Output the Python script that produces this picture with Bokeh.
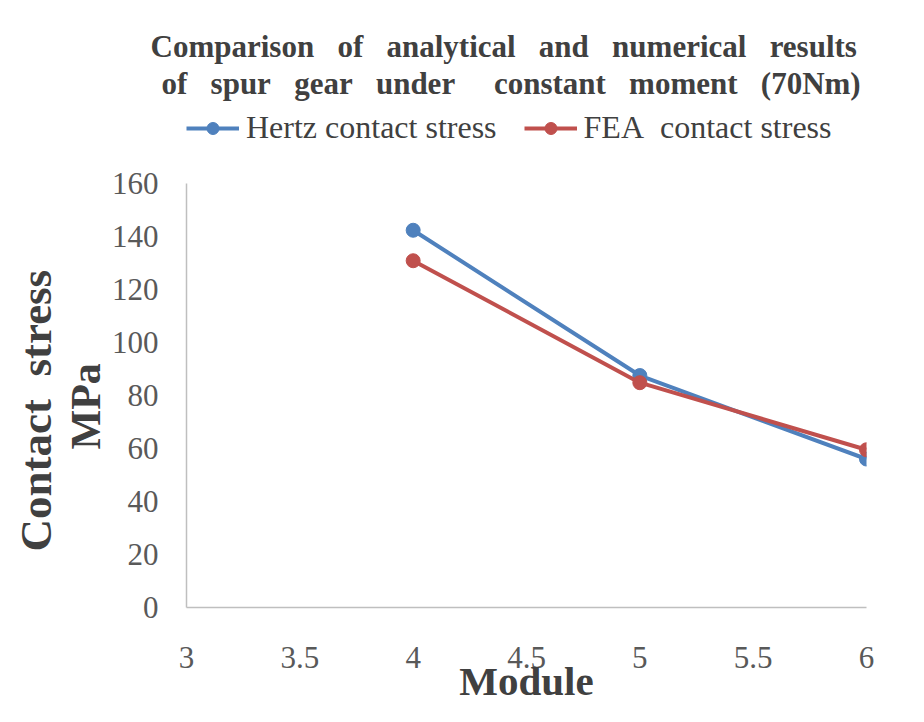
from bokeh.plotting import figure
from bokeh.models import Legend, LegendItem, Range1d, FixedTicker, Title
from bokeh.embed import file_html
from bokeh.resources import INLINE

module = [4, 5, 6]
hertz = [142.3, 87.5, 56.0]
fea = [130.8, 84.8, 59.5]
x_ticks = [3, 3.5, 4, 4.5, 5, 5.5, 6]
y_ticks = [0, 20, 40, 60, 80, 100, 120, 140, 160]
y_max = 160

NB = "\u00a0"
title_line1 = (NB * 3).join(["Comparison", "of", "analytical", "and", "numerical", "results"])
title_line2 = (NB * 3).join(["of", "spur", "gear", "under" + NB * 2, "constant", "moment", "(70Nm)"])
ylabel1 = "Contact" + NB * 2 + "stress"
ylabel2 = "MPa"
xlabel = "Module"
series_names = ["Hertz contact stress", "FEA" + NB * 2 + "contact stress"]

FONT = "Liberation Serif"
BLUE = "#4F81BD"
RED = "#C0504D"
TXT = "#404040"

HAS_STANDOFF = "standoff" in Title.properties()

def mk_title(text, size, offset=0, align="left"):
    kw = dict(text=text, align=align, offset=offset, text_font=FONT,
              text_font_size=size, text_font_style="bold", text_color=TXT)
    if HAS_STANDOFF:
        kw["standoff"] = 0
    return Title(**kw)

# frame extends above the 160 line to hold the legend; axis line bounded to 0..160
TOP = 100
FRAME_BOTTOM = 608
px_per_unit = (FRAME_BOTTOM - 183) / y_max
y_top = y_max + (183 - TOP) / px_per_unit

p = figure(width=908, height=706, output_backend="svg", toolbar_location=None,
           x_range=Range1d(3, 6), y_range=Range1d(0, y_top),
           min_border_left=186, min_border_right=42,
           min_border_top=TOP, min_border_bottom=706 - FRAME_BOTTOM)
p.outline_line_color = None
p.xgrid.visible = False
p.ygrid.visible = False

for ax in (p.xaxis, p.yaxis):
    ax.axis_line_color = "#BFBFBF"
    ax.axis_line_width = 1.5
    ax.major_tick_line_color = None
    ax.minor_tick_line_color = None
    ax.major_label_text_font = FONT
    ax.major_label_text_font_size = "31px"
    ax.major_label_text_color = "#595959"

p.yaxis.bounds = (0, y_max)
p.xaxis.ticker = FixedTicker(ticks=x_ticks)
p.yaxis.ticker = FixedTicker(ticks=y_ticks)
p.xaxis.major_label_standoff = 33
p.yaxis.major_label_standoff = 22

p.xaxis.axis_label = xlabel
p.xaxis.axis_label_text_font = FONT
p.xaxis.axis_label_text_font_size = "41px"
p.xaxis.axis_label_text_font_style = "bold"
p.xaxis.axis_label_text_color = TXT
p.xaxis.axis_label_standoff = -13

r1 = p.line(module, hertz, line_color=BLUE, line_width=4)
s1 = p.scatter(module, hertz, size=14, fill_color=BLUE, line_color=BLUE)
r2 = p.line(module, fea, line_color=RED, line_width=4)
s2 = p.scatter(module, fea, size=14, fill_color=RED, line_color=RED)

legend = Legend(items=[LegendItem(label=series_names[0], renderers=[r1, s1]),
                       LegendItem(label=series_names[1], renderers=[r2, s2])],
                orientation="horizontal", location=(0, FRAME_BOTTOM - 147),
                padding=0, margin=0, spacing=27, glyph_width=53, glyph_height=30,
                label_standoff=7, label_text_font=FONT, label_text_font_size="32px",
                label_text_color=TXT, background_fill_alpha=0,
                border_line_color=None)
p.add_layout(legend, "center")

# above stack: nearest to the frame first
p.add_layout(mk_title(title_line2, "31px", offset=-25), "above")
p.add_layout(mk_title(title_line1, "31px", offset=-36), "above")

# left stack: nearest to the axis first
p.add_layout(mk_title(ylabel2, "42px", offset=158), "left")
p.add_layout(mk_title(ylabel1, "45px", offset=56), "left")

open("out.html", "w").write(file_html(p, INLINE))
